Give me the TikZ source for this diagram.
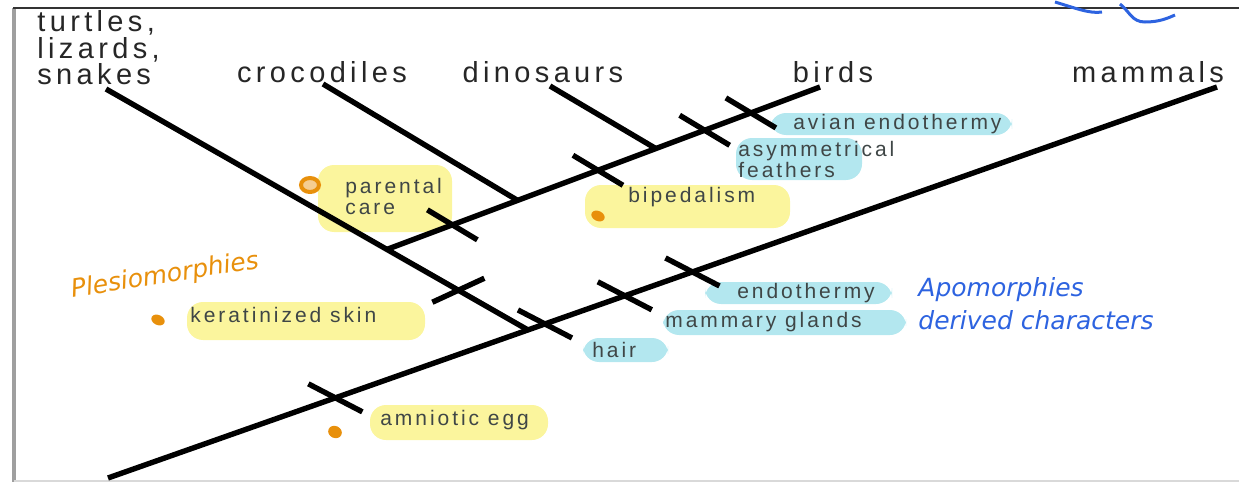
\documentclass[tikz,border=0pt]{standalone}
\usepackage{fontspec}
\setmainfont{Liberation Sans}
\newfontfamily\taxfont[LetterSpace=15]{Liberation Sans}
\newfontfamily\charfont[LetterSpace=14]{Liberation Sans}
\newfontfamily\handfont{DejaVu Sans}
\usetikzlibrary{calc}
\definecolor{hlyellow}{HTML}{FAF38C}
\definecolor{hlcyan}{HTML}{A6E3EC}
\definecolor{penorange}{HTML}{E8900C}
\definecolor{penblue}{HTML}{2D63E0}
\definecolor{chartext}{HTML}{3F4646}
\tikzset{
  branch/.style={line width=2.7pt},
  tickmark/.style={line width=2.7pt},
  taxon/.style={font=\taxfont\fontsize{14.5}{11.4}\selectfont, inner sep=0pt, text=black!85},
  trait/.style={font=\charfont\fontsize{10.5}{10.5}\selectfont, inner sep=0pt, text=chartext},
  hly/.style={fill=hlyellow, rounded corners=8pt, opacity=0.85},
  hlc/.style={fill=hlcyan, rounded corners=8pt, opacity=0.85},
  pendot/.style={fill=penorange},
  handnote/.style={font=\handfont\itshape\fontsize{12.5}{15}\selectfont, inner sep=0pt},
}
\begin{document}
\begin{tikzpicture}[x=0.5pt,y=-0.5pt]
  \useasboundingbox (0,0) rectangle (1239,482);
  % frame of the figure
  \draw[gray!75, line width=2pt] (14,482) -- (14,8);
  \draw[black!80, line width=1.2pt] (13,8) -- (1239,8);
  \draw[gray!30, line width=1.5pt] (14,481) -- (1239,481);
  \draw[penblue, line width=1.5pt] (1055,2) .. controls (1075,8) and (1090,14) .. (1102,12);
  \draw[penblue, line width=1.5pt] (1120,4) .. controls (1130,12) and (1132,22) .. (1145,22) .. controls (1160,22) and (1168,18) .. (1175,15);

  % highlighter marks
  \fill[hly] (318,165) rectangle (452,232);
  \fill[hly] (585,185) rectangle (790,228);
  \fill[hly] (187,302) rectangle (425,340);
  \fill[hly] (370,405) rectangle (548,440);
  \fill[hlc] (770,113) rectangle (1012,135);
  \fill[hlc] (736,138) rectangle (862,180);
  \fill[hlc] (705,282) rectangle (892,304);
  \fill[hlc] (663,310) rectangle (906,335);
  \fill[hlc] (583,338) rectangle (668,362);

  % pen dots
  \draw[penorange, line width=2pt, fill=penorange!45] (310,185) ellipse (9 and 7);
  \fill[pendot, rotate around={-25:(598,216)}] (598,216) ellipse (7 and 5);
  \fill[pendot, rotate around={-25:(158,320)}] (158,320) ellipse (7 and 5);
  \fill[pendot, rotate around={-25:(335,432)}] (335,432) ellipse (7 and 6);

  % taxa
  \node[taxon, align=left, anchor=north west] (turtles) at (37,10) {turtles,\\lizards,\\snakes};
  \node[taxon] (croc) at (322,72) {crocodiles};
  \node[taxon] (dino) at (543,72) {dinosaurs};
  \node[taxon] (birds) at (833,72) {birds};
  \node[taxon] (mammals) at (1148,72) {mammals};

  % branches
  \coordinate (root) at (108,478);
  \coordinate (mamtip) at (1217,87);
  \coordinate (sauria) at (528,330);
  \coordinate (turtip) at (106,89);
  \coordinate (archo) at (388,249);
  \coordinate (birdtip) at (820,87);
  \coordinate (crocjn) at ($(archo)!0.3!(birdtip)$);
  \coordinate (crotip) at (323,84);
  \coordinate (dinojn) at ($(archo)!0.62!(birdtip)$);
  \coordinate (dinotip) at (550,86);
  \draw[branch] (root) -- (mamtip);
  \draw[branch] (sauria) -- (turtip);
  \draw[branch] (archo) -- (birdtip);
  \draw[branch] (crocjn) -- (crotip);
  \draw[branch] (dinojn) -- (dinotip);

  % characters
  \foreach \t in {0.205,0.394,0.466,0.527}
    \draw[tickmark] ($(root)!\t!(mamtip)$) ++(-27,-14) -- ++(54,28);
  \foreach \t in {0.149,0.486,0.733,0.840}
    \draw[tickmark] ($(archo)!\t!(birdtip)$) ++(-25,-15) -- ++(50,30);
  \draw[tickmark] ($(turtip)!0.835!(sauria)$) ++(-26,12) -- ++(52,-24);

  \node[trait, anchor=west] (avian) at (793,124) {avian endothermy};
  \node[trait, align=left, anchor=north west] (asym) at (738,141) {asymmetrical\\feathers};
  \node[trait, align=left, anchor=north west] (parental) at (345,178) {parental\\care};
  \node[trait, anchor=west] (biped) at (628,197) {bipedalism};
  \node[trait, anchor=west] (kerat) at (190,315) {keratinized skin};
  \node[trait, anchor=west] (amnio) at (380,420) {amniotic egg};
  \node[trait, anchor=west] (endo) at (737,293) {endothermy};
  \node[trait, anchor=west] (mamgl) at (665,322) {mammary glands};
  \node[trait, anchor=west] (hair) at (592,350) {hair};

  % handwritten notes
  \node[handnote, text=penorange, rotate=9] (plesio) at (165,276) {Plesiomorphies};
  \node[handnote, text=penblue, anchor=west] (apo) at (918,290) {Apomorphies};
  \node[handnote, text=penblue, anchor=west] (derived) at (918,320) {derived characters};
\end{tikzpicture}
\end{document}
